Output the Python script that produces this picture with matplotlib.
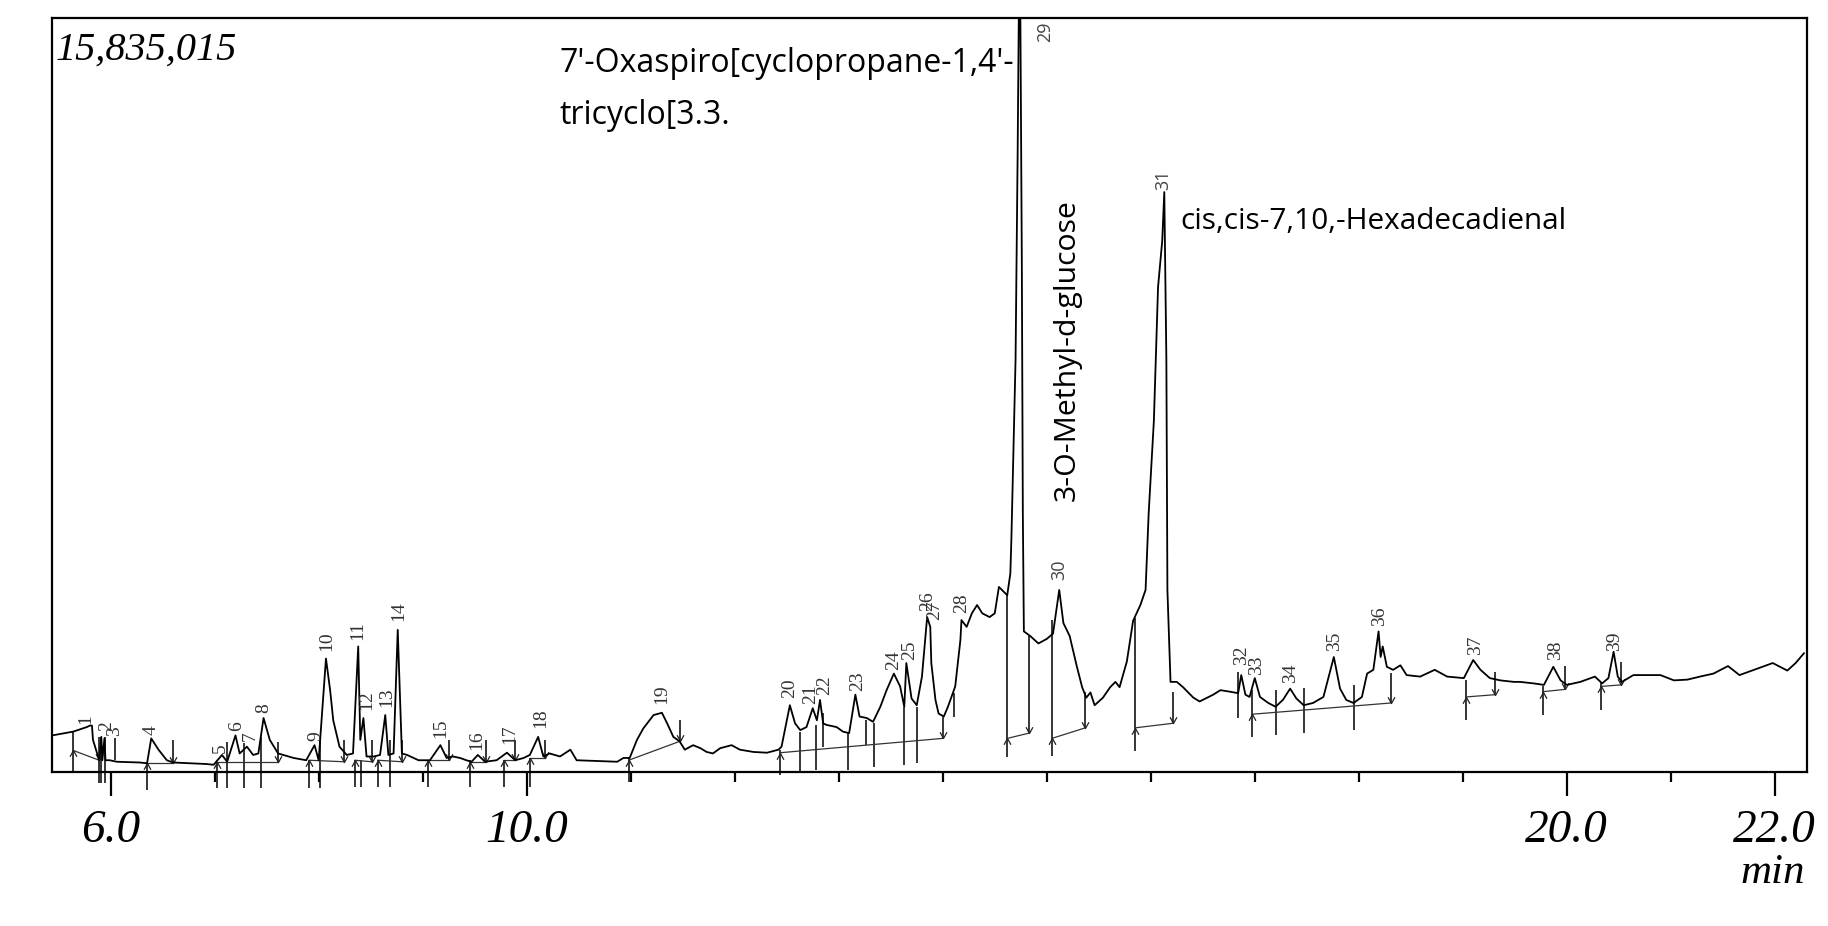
import matplotlib
matplotlib.use("Agg")
import matplotlib.pyplot as plt
from matplotlib.path import Path

# GC-MS total ion chromatogram, retention time (min) vs signal (% of 15,835,015 counts)
rt = [5.44, 5.64, 5.77, 5.80, 5.82, 5.83, 5.87, 5.89, 5.91, 5.92, 5.94, 5.95, 5.99, 6.06, 6.28,
      6.35, 6.39, 6.46, 6.54, 6.60, 6.92, 6.99, 7.07, 7.12, 7.20, 7.24, 7.31, 7.37, 7.42, 7.47,
      7.53, 7.61, 7.66, 7.76, 7.88, 7.96, 8.00, 8.07, 8.11, 8.14, 8.20, 8.27, 8.33, 8.38, 8.40,
      8.43, 8.46, 8.53, 8.59, 8.64, 8.67, 8.72, 8.76, 8.80, 8.85, 8.96,
      9.07, 9.17, 9.23, 9.29, 9.36, 9.42, 9.47, 9.53, 9.60, 9.71, 9.81, 9.89, 9.97, 10.03, 10.11,
      10.16, 10.22, 10.32, 10.42, 10.48, 10.87, 10.93, 10.99, 11.06, 11.12, 11.22, 11.30, 11.35,
      11.41, 11.47, 11.52, 11.60, 11.67, 11.73, 11.79, 11.86, 11.97, 12.05, 12.18, 12.31, 12.42,
      12.45, 12.53, 12.58, 12.63, 12.69, 12.75, 12.79, 12.82, 12.85, 12.88, 12.98, 13.04, 13.10,
      13.16, 13.20, 13.27, 13.33, 13.40, 13.46, 13.53, 13.59, 13.63, 13.65, 13.70, 13.75, 13.80,
      13.85, 13.88, 13.89, 13.93, 13.96, 14.01, 14.05, 14.12, 14.17, 14.18, 14.23, 14.28, 14.33,
      14.38, 14.45, 14.50, 14.54, 14.62, 14.65,
      14.66, 14.70, 14.72, 14.74, 14.76, 14.77, 14.78, 14.84, 14.92, 15.00, 15.06, 15.12, 15.16,
      15.22, 15.29, 15.34, 15.38, 15.42, 15.46, 15.54, 15.61, 15.66, 15.70, 15.77, 15.83, 15.90,
      15.95, 15.98, 16.03, 16.07, 16.11, 16.13, 16.15, 16.16, 16.19, 16.25, 16.31, 16.41,
      16.47, 16.60, 16.67, 16.76, 16.84, 16.87, 16.91, 16.95, 17.00, 17.05, 17.13, 17.20, 17.27,
      17.34, 17.40, 17.47, 17.56, 17.66, 17.76, 17.82, 17.88, 17.95, 18.03, 18.08, 18.14, 18.19,
      18.21, 18.23, 18.27, 18.33, 18.40, 18.46, 18.59, 18.73, 18.85, 19.01, 19.10, 19.17, 19.26,
      19.36, 19.49,
      19.55, 19.68, 19.78, 19.87, 19.94, 20.00, 20.13, 20.27, 20.34, 20.40, 20.45, 20.49, 20.53,
      20.64, 20.77, 20.90, 21.03, 21.16, 21.28, 21.41, 21.55, 21.66, 21.82, 21.98, 22.12, 22.20,
      22.28]
sig = [4.8, 5.3, 5.9, 6.1, 6.1, 4.2, 2.4, 1.5, 4.6, 1.5, 4.4, 1.5, 1.5, 1.3, 1.2,
       1.1, 4.4, 2.9, 1.5, 1.2, 1.0, 0.9, 2.2, 1.3, 4.8, 2.4, 3.3, 2.2, 2.4, 7.1,
       4.2, 2.4, 2.2, 1.8, 1.5, 3.5, 1.5, 15.0, 10.8, 6.8, 3.3, 2.2, 2.4, 16.6, 4.2,
       7.1, 2.0, 2.0, 2.2, 7.5, 2.2, 2.4, 18.8, 2.4, 2.2, 1.5,
       1.5, 3.5, 1.8, 2.0, 1.8, 1.5, 1.3, 2.2, 1.3, 1.5, 2.5, 1.5, 1.8, 2.2, 4.6,
       2.0, 2.4, 2.0, 2.9, 1.5, 1.3, 1.8, 1.8, 4.2, 5.7, 7.5, 7.8, 6.4,
       4.6, 4.0, 2.9, 3.5, 3.1, 2.6, 2.4, 3.1, 3.5, 2.9, 2.6, 2.5, 2.9,
       3.3, 8.8, 6.4, 5.5, 5.9, 8.4, 6.8, 9.5, 6.4, 6.2, 5.9, 5.3, 5.1,
       10.2, 7.3, 7.1, 6.6, 8.6, 10.8, 13.0, 11.3, 8.6, 14.4, 9.7, 8.8, 12.6,
       20.5, 19.2, 14.4, 9.5, 7.7, 7.3, 8.6, 11.3, 17.5, 20.1, 19.2, 21.0, 22.1,
       21.0, 20.5, 21.0, 24.5, 23.4, 26.3,
       30.9, 54.7, 81.9, 115.0, 68.4, 34.3, 18.6, 18.0, 17.0, 17.6, 18.3, 24.1, 19.7,
       18.0, 13.9, 11.2, 9.8, 10.5, 8.8, 9.8, 11.2, 11.9, 11.2, 14.6, 20.0, 22.1,
       24.1, 34.3, 46.6, 64.3, 70.4, 76.9, 54.7, 24.1, 11.9, 11.9, 11.2, 9.8,
       9.3, 10.2, 10.8, 10.6, 10.4, 12.8, 10.2, 9.9, 12.4, 9.9, 9.1, 8.6, 9.5,
       11.0, 9.7, 8.8, 9.1, 9.9, 15.2, 11.0, 9.5, 9.1, 9.9, 13.0, 13.5, 18.6,
       15.2, 16.6, 13.9, 13.5, 14.1, 12.8, 12.6, 13.5, 12.6, 12.4, 14.8, 13.5, 12.4,
       12.1, 11.9,
       11.9, 11.7, 11.5, 13.9, 12.1, 11.5, 11.9, 12.6, 11.7, 12.4, 15.9, 12.6, 11.9,
       12.8, 12.8, 12.8, 12.1, 12.2, 12.6, 13.0, 14.0, 12.8, 13.6, 14.4, 13.4, 14.4,
       15.7]

# peak numbers and where their labels sit
pk_no = [str(i) for i in range(1, 40)]
pk_rt = [5.76, 5.96, 6.04, 6.39, 7.05, 7.21, 7.34, 7.47, 7.97, 8.08, 8.38, 8.46, 8.65, 8.77,
         9.17, 9.52, 9.84, 10.13, 11.30, 12.53, 12.73, 12.86, 13.18, 13.53, 13.68, 13.85, 13.92,
         14.18, 14.98, 15.12, 16.12, 16.87, 17.02, 17.34, 17.77, 18.20, 19.12, 19.89, 20.46]
pk_y = [6.0, 5.1, 4.4, 4.6, 2.2, 5.1, 3.8, 7.5, 3.8, 15.7, 17.1, 7.9, 8.2, 19.7, 4.2, 2.6,
        3.3, 5.5, 8.6, 9.5, 8.6, 9.9, 10.4, 13.2, 14.5, 21.0, 19.8, 20.8, 96.8, 25.4, 77.2,
        13.9, 12.5, 11.5, 15.7, 19.0, 15.2, 14.5, 15.7]

# integration event marks (vertical strokes)
mk_rt = [5.64, 5.89, 5.91, 5.95, 6.04, 6.35, 6.60, 7.02, 7.12, 7.28, 7.45, 7.61, 7.91, 8.01,
         8.24, 8.35, 8.41, 8.51, 8.57, 8.69, 8.80, 9.05, 9.25, 9.45, 9.61, 9.78, 9.89, 10.03,
         10.18, 10.98, 11.47, 12.44, 12.63, 12.78, 12.85, 13.09, 13.26, 13.34, 13.63, 13.75,
         14.00, 14.11, 14.62, 14.83, 15.05, 15.37, 15.85, 16.21, 16.84, 16.97, 17.20, 17.47,
         17.95, 18.31, 19.03, 19.31, 19.77, 19.98, 20.33, 20.52]
mk_top = [5.3, 4.6, 4.6, 4.6, 4.4, 1.1, 4.2, 1.3, 3.9, 3.8, 4.6, 3.9, 1.5, 4.2, 4.2, 1.5,
          1.5, 4.2, 1.5, 4.2, 4.2, 1.5, 4.2, 1.5, 4.2, 1.5, 4.2, 1.8, 4.2, 1.9, 6.8, 2.9,
          5.3, 6.2, 7.8, 5.1, 6.8, 6.4, 8.6, 8.6, 7.2, 10.4, 23.4, 18.0, 20.1, 10.5, 20.4,
          10.5, 13.2, 10.8, 10.8, 11.1, 11.5, 13.1, 12.1, 13.2, 11.3, 14.0, 11.7, 14.6]
mk_bot = [0.1, -1.5, -1.5, -1.5, 1.5, -2.5, 1.1, -2.2, -2.2, -2.2, -2.2, 1.3, -2.2, -2.2,
          1.3, -2.1, -2.1, 1.3, -2.1, -2.1, 1.3, -2.1, 1.5, -2.1, 1.3, -2.1, 1.5, -2.1, 1.8,
          -1.4, 4.0, -0.5, -0.2, 0.2, 3.3, 0.2, 3.5, 0.6, 0.9, 1.1, 4.4, 7.2, 1.9, 5.1, 2.1,
          5.8, 2.7, 6.4, 7.1, 4.6, 4.8, 5.1, 5.5, 9.1, 6.8, 10.2, 7.5, 10.9, 8.2, 11.5]

# integration baselines (start -> end)
bl_t0 = [5.64, 6.35, 7.02, 7.91, 8.35, 8.57, 9.05, 9.45, 9.78, 10.03, 10.98, 12.44, 14.62,
         15.05, 15.85, 16.97, 19.03, 19.77, 20.33]
bl_y0 = [2.8, 1.1, 1.3, 1.5, 1.5, 1.5, 1.5, 1.3, 1.5, 1.8, 1.5, 2.5, 4.4, 4.4, 5.8, 7.6,
         9.9, 10.6, 11.3]
bl_t1 = [5.89, 6.60, 7.61, 8.24, 8.51, 8.80, 9.25, 9.61, 9.89, 10.18, 11.47, 14.00, 14.83,
         15.37, 16.21, 18.31, 19.31, 19.98, 20.52]
bl_y1 = [1.5, 1.1, 1.3, 1.3, 1.3, 1.3, 1.5, 1.3, 1.5, 1.8, 4.0, 4.4, 5.1, 5.8, 6.4, 9.1,
         10.2, 10.9, 11.5]

# identified compounds
names = ["7'-Oxaspiro[cyclopropane-1,4'-\ntricyclo[3.3.", "3-O-Methyl-d-glucose",
         "cis,cis-7,10,-Hexadecadienal"]
name_rt = [10.32, 15.20, 16.28]
name_y = [96.2, 55.9, 73.0]

SERIF = "Liberation Serif"
SANS = "Open Sans"

fig = plt.figure(figsize=(18.28, 9.26), dpi=100)
ax = fig.add_axes([0.02845, 0.1668, 0.9601, 0.8137])

ax.plot(rt, sig, color="black", lw=1.3, zorder=3)

ax.vlines(mk_rt, mk_bot, mk_top, color="black", lw=1.1, clip_on=False, zorder=2)
for t0, y0, t1, y1 in zip(bl_t0, bl_y0, bl_t1, bl_y1):
    ax.plot([t0, t1], [y0, y1], color="#333333", lw=0.9, zorder=2)
up = Path([(-0.55, -1.0), (0, 0), (0.55, -1.0)], [Path.MOVETO, Path.LINETO, Path.LINETO])
down = Path([(-0.55, 1.0), (0, 0), (0.55, 1.0)], [Path.MOVETO, Path.LINETO, Path.LINETO])
ax.plot(bl_t0, bl_y0, ls="none", marker=up, ms=9, mfc="none", mec="#222222", mew=0.9)
ax.plot(bl_t1, bl_y1, ls="none", marker=down, ms=9, mfc="none", mec="#222222", mew=0.9)

for lab, t, y in zip(pk_no, pk_rt, pk_y):
    if lab in ("29", "30", "31"):
        ax.text(t, y, lab, rotation=90, ha="center", va="bottom", fontsize=13,
                family=SANS, color="#444444")
    else:
        ax.text(t, y + 0.3, lab, rotation=90, ha="center", va="bottom", fontsize=14,
                family=SERIF, color="#333333")

ax.text(name_rt[0], name_y[0], names[0], ha="left", va="top", fontsize=23, family=SANS,
        linespacing=1.78)
ax.text(name_rt[1], name_y[1], names[1], rotation=90, ha="center", va="center",
        fontsize=21.8, family=SANS)
ax.text(name_rt[2], name_y[2], names[2], ha="left", va="center", fontsize=21.4, family=SANS)

ax.text(0.002, 0.958, "15,835,015", transform=ax.transAxes, ha="left", va="center",
        fontsize=29, family=SERIF, style="italic")

ax.set_xlim(5.436, 22.31)
ax.set_ylim(0, 100)
ax.set_yticks([])
ax.set_xticks([6, 10, 20, 22])
ax.set_xticklabels(["6.0", "10.0", "20.0", "22.0"], family=SERIF, style="italic", fontsize=34)
ax.set_xticks([7, 8, 9, 11, 12, 13, 14, 15, 16, 17, 18, 19, 21], minor=True)
ax.tick_params(axis="x", which="major", length=17, width=1.6, direction="out", pad=10)
ax.tick_params(axis="x", which="minor", length=7.5, width=1.6, direction="out")
for s in ax.spines.values():
    s.set_linewidth(1.6)

fig.text(0.9874, 0.058, "min", ha="right", va="center", fontsize=31, family=SERIF,
         style="italic")

fig.savefig("out.png", dpi=100)
